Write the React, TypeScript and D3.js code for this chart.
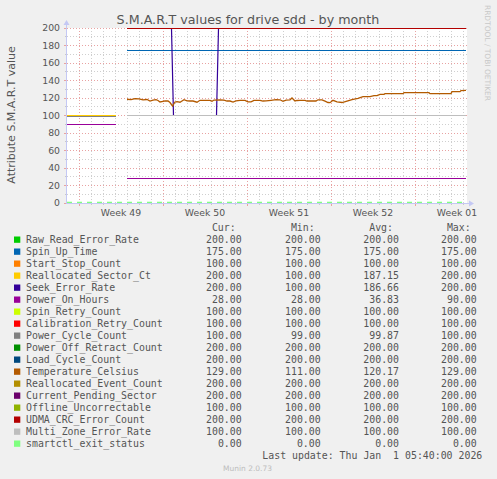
import * as d3 from 'd3';

// attributes, in legend (and drawing) order
const attrNames = [
  'Raw_Read_Error_Rate', 'Spin_Up_Time', 'Start_Stop_Count', 'Reallocated_Sector_Ct',
  'Seek_Error_Rate', 'Power_On_Hours', 'Spin_Retry_Count', 'Calibration_Retry_Count',
  'Power_Cycle_Count', 'Power_Off_Retract_Count', 'Load_Cycle_Count', 'Temperature_Celsius',
  'Reallocated_Event_Count', 'Current_Pending_Sector', 'Offline_Uncorrectable',
  'UDMA_CRC_Error_Count', 'Multi_Zone_Error_Rate', 'smartctl_exit_status',
];
const attrColors = [
  '#00cc00', '#0066b3', '#ff8000', '#ffcc00', '#330099', '#990099', '#ccff00', '#ff0000',
  '#808080', '#008f00', '#00487d', '#b35a00', '#b38f00', '#6b006b', '#8fb300', '#b30000',
  '#bebebe', '#80ff80',
];
const curValues = [200, 175, 100, 200, 200, 28, 100, 100, 100, 200, 200, 129, 200, 200, 100, 200, 100, 0];
const minValues = [200, 175, 100, 100, 100, 28, 100, 100, 99, 200, 200, 111, 200, 200, 100, 200, 100, 0];
const avgValues = [200, 175, 100, 187.15, 186.66, 36.83, 100, 100, 99.87, 200, 200, 120.17, 200, 200, 100, 200, 100, 0];
const maxValues = [200, 175, 100, 200, 200, 90, 100, 100, 100, 200, 200, 129, 200, 200, 100, 200, 100, 0];

// hours since 2025-11-30 00:00 UTC
const earlyHours = [0, 98];
const lateHours = [120, 798];
const fullHours = [0, 798];
// value before the gap in the data (null: not reported)
const earlyValues = [null, null, 100, 100, null, 90, null, null, 99, null, null, null, null, null, null, null, null, 0];
// flat value after the gap (null: drawn from its own list below)
const lateValues = [200, 175, 100, 200, null, 28, 100, 100, 100, 200, 200, null, 200, 200, 100, 200, 100, 0];

const seekHours = [120, 209, 213, 299, 303, 798];
const seekValues = [200, 200, 100, 100, 200, 200];

const tempHours = [
  120, 128, 136, 144, 152, 160, 166, 172, 178, 182, 186, 192, 196, 202, 206, 211, 216, 220, 226, 230,
  234, 240, 246, 252, 260, 266, 276, 286, 290, 294, 306, 314, 320, 326, 332, 338, 346, 356, 362, 368,
  374, 386, 392, 398, 408, 418, 426, 432, 438, 446, 450, 456, 460, 466, 476, 480, 490, 498, 502, 510,
  516, 522, 526, 532, 540, 550, 560, 570, 582, 592, 606, 614, 620, 626, 634, 636, 672, 674, 724, 726,
  768, 770, 786, 788, 798,
];
const tempValues = [
  118.9, 118.6, 119.6, 119.3, 118.2, 118.6, 116.9, 118.0, 118.5, 117.5, 115.8, 116.5, 117.0, 116.9, 115.2, 111.2, 115.8, 116.2, 115.5, 117.0,
  118.5, 117.0, 116.9, 116.9, 115.5, 117.7, 117.7, 117.7, 116.5, 118.0, 118.2, 118.0, 116.9, 116.9, 115.7, 117.0, 117.7, 117.7, 116.0, 116.0,
  117.7, 117.7, 116.9, 117.0, 117.7, 118.5, 118.3, 116.5, 118.0, 118.3, 120.4, 117.0, 117.5, 117.7, 117.7, 116.9, 117.0, 116.9, 118.3, 118.2,
  116.8, 115.2, 115.0, 117.7, 116.0, 115.2, 116.9, 118.5, 120.0, 122.0, 122.0, 123.0, 123.0, 124.5, 124.5, 125.3, 125.3, 126.4, 126.4, 125.3,
  125.3, 127.6, 127.6, 128.8, 129.0,
];

const yTicks = [0, 20, 40, 60, 80, 100, 120, 140, 160, 180, 200];
const yMinorTicks = [10, 30, 50, 70, 90, 110, 130, 150, 170, 190];

const start = new Date(Date.UTC(2025, 10, 30));
const end = new Date(Date.UTC(2026, 0, 2, 8));
const hourDate = (h: number) => new Date(start.getTime() + h * 3600000);

const sans = "'DejaVu Sans', sans-serif";
const mono = "'DejaVu Sans Mono', monospace";
const textColor = '#555';
const axisColor = '#c4c8f4';

export default function App() {
  const x = d3.scaleUtc().domain([start, end]).range([67, 467]);
  const y = d3.scaleLinear().domain([0, 200]).range([203, 28]);
  const [x0, x1] = x.range();
  const [yBot, yTop] = y.range();
  // snap to the pixel row the way rrdtool does
  const crisp = (v: number) => Math.floor(y(v) + 0.15) + 0.5;

  const days = d3.utcDay.range(start, end).filter((d) => x(d) > x0 + 1);
  const mondays = d3.utcMonday.range(start, end);
  const minorDays = days.filter((d) => d.getUTCDay() !== 1);
  const weekFmt = d3.utcFormat('%V');

  const line = d3
    .line<[number, number]>()
    .x((d) => x(hourDate(d[0])))
    .y((d) => y(d[1]) + 0.3);
  const flatLine = d3
    .line<[number, number]>()
    .x((d) => x(hourDate(d[0])))
    .y((d) => crisp(d[1]));
  const pairs = (hours: number[], vals: number[]) => hours.map((h, k) => [h, vals[k]] as [number, number]);
  const flat = (hours: number[], v: number) => flatLine(pairs(hours, hours.map(() => v)));

  const paths: { d: string; color: string; dash?: string; width?: number; dy?: number }[] = [];
  attrNames.forEach((name, i) => {
    const color = attrColors[i];
    if (name === 'smartctl_exit_status') {
      paths.push({ d: flat(fullHours, curValues[i])!, color, dash: '5,5', width: 1.6, dy: -1 });
      return;
    }
    const ev = earlyValues[i];
    if (ev !== null) paths.push({ d: flat(earlyHours, ev)!, color });
    const lv = lateValues[i];
    if (lv !== null) paths.push({ d: flat(lateHours, lv)!, color });
    else if (name === 'Seek_Error_Rate')
      paths.push({ d: flatLine(pairs(seekHours, seekValues))!, color, width: 1.2 });
    else if (name === 'Temperature_Celsius')
      paths.push({ d: line(pairs(tempHours, tempValues))!, color, width: 1.3 });
  });

  const fmt = d3.format('.2f');
  const colRight = [241.7, 320.7, 399, 476.7];
  const headers = ['Cur:', 'Min:', 'Avg:', 'Max:'];
  const cols = [curValues, minValues, avgValues, maxValues];

  return (
    <svg
      width={497}
      height={479}
      style={{ position: 'absolute', left: 0, top: 0, display: 'block', background: '#f0f0f0' }}
    >
      <rect x={0} y={0} width={497} height={479} fill="#f0f0f0" />
      <rect x={x0} y={yTop} width={x1 - x0} height={yBot - yTop} fill="#fff" />

      {/* grid */}
      <g strokeWidth={1} strokeDasharray="1,2">
        {yMinorTicks.map((v) => (
          <line key={'hm' + v} x1={x0} x2={x1} y1={crisp(v)} y2={crisp(v)} stroke="#cfcfcf" />
        ))}
        {minorDays.map((d) => (
          <line key={'vm' + d.getTime()} x1={Math.round(x(d)) + 0.5} x2={Math.round(x(d)) + 0.5} y1={yTop} y2={yBot} stroke="#cfcfcf" />
        ))}
        {yTicks.filter((v) => v > 0).map((v) => (
          <line key={'hM' + v} x1={x0} x2={x1} y1={crisp(v)} y2={crisp(v)} stroke="#e8a2a2" />
        ))}
        {mondays.map((d) => (
          <line key={'vM' + d.getTime()} x1={Math.round(x(d)) + 0.5} x2={Math.round(x(d)) + 0.5} y1={yTop} y2={yBot} stroke="#e8a2a2" />
        ))}
      </g>

      {/* tick marks */}
      <g strokeWidth={1}>
        {yMinorTicks.map((v) => (
          <line key={'tm' + v} x1={x0 - 2} x2={x0} y1={crisp(v)} y2={crisp(v)} stroke="#c8c8c8" />
        ))}
        {yTicks.map((v) => (
          <line key={'tM' + v} x1={x0 - 3} x2={x0} y1={crisp(v)} y2={crisp(v)} stroke="#e8a2a2" />
        ))}
        {minorDays.map((d) => (
          <line key={'xm' + d.getTime()} x1={Math.round(x(d)) + 0.5} x2={Math.round(x(d)) + 0.5} y1={yBot} y2={yBot + 2} stroke="#c8c8c8" />
        ))}
        {mondays.map((d) => (
          <line key={'xM' + d.getTime()} x1={Math.round(x(d)) + 0.5} x2={Math.round(x(d)) + 0.5} y1={yBot} y2={yBot + 3} stroke="#e8a2a2" />
        ))}
      </g>

      {/* series */}
      <g fill="none">
        {paths.map((p, k) => (
          <path
            key={k}
            d={p.d}
            stroke={p.color}
            strokeWidth={p.width ?? 1.1}
            strokeDasharray={p.dash}
            transform={p.dy ? `translate(0,${p.dy})` : undefined}
          />
        ))}
      </g>

      {/* axes */}
      <line x1={x0 - 0.5} x2={x0 - 0.5} y1={yBot + 1} y2={24} stroke={axisColor} />
      <path d={`M${x0 - 3.5},25 L${x0 - 0.5},20 L${x0 + 2.5},25 Z`} fill={axisColor} />
      <line x1={x0 - 1} x2={470} y1={yBot + 0.5} y2={yBot + 0.5} stroke={axisColor} />
      <path d={`M469,${yBot - 2.5} L474,${yBot + 0.5} L469,${yBot + 3.5} Z`} fill={axisColor} />

      {/* axis labels */}
      <g fontFamily={sans} fontSize={9.3} fill={textColor}>
        {yTicks.map((v) => (
          <text key={'yl' + v} x={60} y={y(v) + 3.4} textAnchor="end">
            {v}
          </text>
        ))}
        {mondays.map((d) => {
          const mid = new Date(d.getTime() + 3.5 * 86400000);
          if (mid > end) return null;
          return (
            <text key={'wl' + d.getTime()} x={x(mid)} y={215.7} textAnchor="middle">
              {'Week ' + weekFmt(d)}
            </text>
          );
        })}
      </g>

      <text x={248} y={24} textAnchor="middle" fontFamily={sans} fontSize={12.7} fill={textColor}>
        S.M.A.R.T values for drive sdd - by month
      </text>
      <text
        transform="translate(15,115) rotate(-90)"
        textAnchor="middle"
        fontFamily={sans}
        fontSize={11}
        fill={textColor}
      >
        Attribute S.M.A.R.T value
      </text>
      <text
        transform="translate(485,5) rotate(90)"
        fontFamily={sans}
        fontSize={7.5}
        fill="#c8c8c8"
        textLength={96}
        lengthAdjust="spacingAndGlyphs"
      >
        RRDTOOL / TOBI OETIKER
      </text>

      {/* legend */}
      <g fontFamily={mono} fontSize={9.9} fill={textColor}>
        {headers.map((h, c) => (
          <text key={h} x={colRight[c] - 6} y={231} textAnchor="end">
            {h}
          </text>
        ))}
        {attrNames.map((name, i) => {
          const base = 243.3 + 12 * i;
          return (
            <g key={name}>
              <rect x={14} y={base - 6.8} width={6.3} height={6.3} fill={attrColors[i]} />
              <text x={26} y={base}>
                {name}
              </text>
              {cols.map((col, c) => (
                <text key={c} x={colRight[c]} y={base} textAnchor="end">
                  {fmt(col[i])}
                </text>
              ))}
            </g>
          );
        })}
        <text x={482.3} y={459.3} textAnchor="end" style={{ whiteSpace: 'pre' }}>
          {'Last update: Thu Jan  1 05:40:00 2026'}
        </text>
      </g>
      <text x={247.5} y={471} textAnchor="middle" fontFamily={sans} fontSize={7.5} fill="#bdbdbd">
        Munin 2.0.73
      </text>
    </svg>
  );
}
